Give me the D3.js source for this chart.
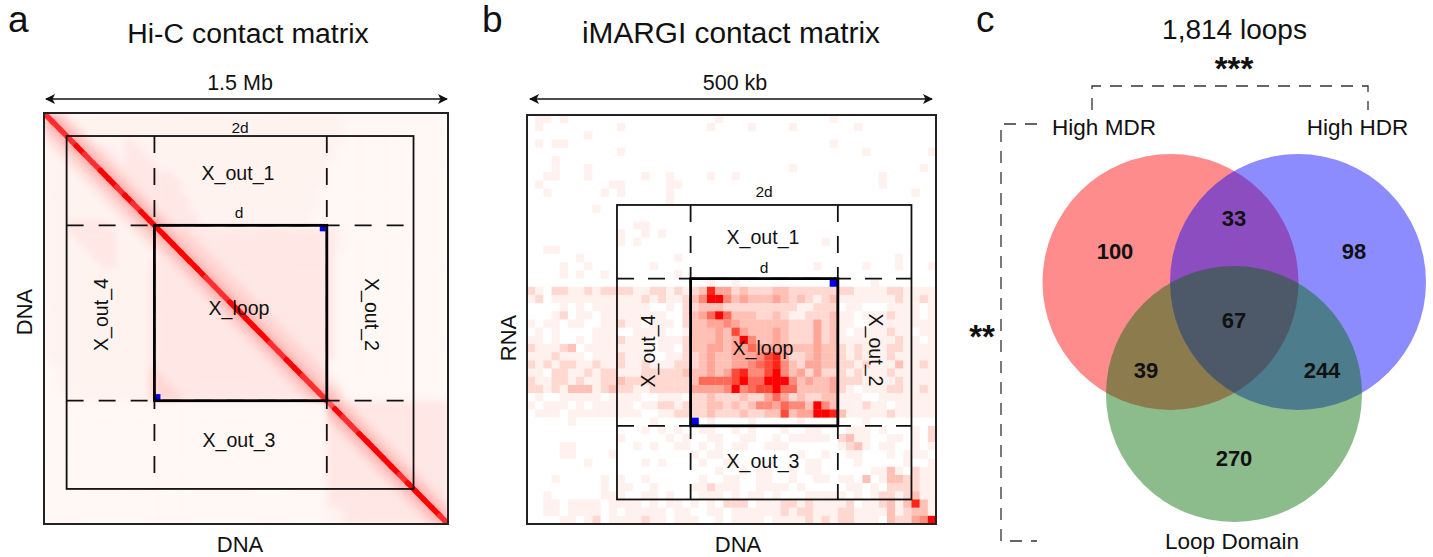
<!DOCTYPE html>
<html>
<head>
<meta charset="utf-8">
<script src="https://cdn.jsdelivr.net/npm/d3@7/dist/d3.min.js"></script>
<style>
  html, body { margin: 0; background: #fff; }
  text { font-family: "Liberation Sans", Arial, sans-serif; fill: #111; }
</style>
</head>
<body>
<svg id="chart" width="1433" height="557"></svg>
<script>
// Hi-C background, 50 x 50, one digit per coarse cell (0 pale .. 9 red)
const hicRows = [
  "54311111111111111111111111111111111110000000000000",
  "45431111111111111111111111111111111110000000000000",
  "34543111111111111111111111111111111110000000000000",
  "23454311112111111111111111111111111110000000000000",
  "12345432112211111111111111111111111100000000000000",
  "11234543212221111111111111111111111100000000000000",
  "11123454322222111111111111111111111000000000000000",
  "11112345432222221111111111111111111000000000000000",
  "11111234543222222111111111111111111000000000000000",
  "11111123454322222111111111111111110000000000000000",
  "11111112345432222211111111111111110000000000000000",
  "11111111234543222211111111111111110000000000000000",
  "11111111123454322221111111111111100000000000000000",
  "11122222112345432221111111111111100000000000000000",
  "11122222211234543322222222222222222210000000000000",
  "11112222211123454332222222222222222210000000000000",
  "11111222211112345433222222222222222210000000000000",
  "11111122211111234543322222222222222200000000000000",
  "11111112211112223454332222222222222200000000000000",
  "11111111111112222345433222222222222200000000000000",
  "11111111111112222234543322222222222200000000000000",
  "11111111111112222223454332222222222200000000000000",
  "11111111111112222222345433222222222200000000000000",
  "11111111111112222222234543322222222200000000000000",
  "11111111111112222222223454332222222200000000000000",
  "11111111111112222222222345433222222200000000000000",
  "11111111111112222222222234543322222200000000000000",
  "11111111111112222222222223454332222200000000000000",
  "11111111111112222222222222345433222200000000000000",
  "11111111111112222222222222234543322200000000000000",
  "01111111111112222222222222223454332000000000000000",
  "00111111111113222222222222222345433000000000000000",
  "00111111111113322222222222222234543200000000000000",
  "00111111111113332222222222222223454320000000000000",
  "00011111111113333222222222222222345430000000000000",
  "00000000000000000000000000000000000543222222222222",
  "00000000000000000000000000000000000454322222222222",
  "00000000000000000000000000000000000345432222222222",
  "00000000000000000000000000000000000234543222222222",
  "00000000000000000000000000000000000223454322222222",
  "00000000000000000000000000000000000222345432222222",
  "00000000000000000000000000000000000222234543222222",
  "00000000000000000000000000000000000222223454322222",
  "00000000000000000000000000000000000222222345432222",
  "00000000000000000000000000000000000222222234543222",
  "00000000000000000000000000000000000222222223454322",
  "00000000000000000000000000000000000222222222345432",
  "00000000000000000000000000000000000222222222234543",
  "00000000000000000000000000000000000112222222223454",
  "00000000000000000000000000000000000112222222222345"
];
// strength of the main diagonal along the same 50 coarse steps
const hicDiagonal = [8,8,8,8,9,8,8,9,9,8,9,8,9,9,9,9,9,9,9,9,8,8,8,9,9,9,9,9,8,8,9,9,8,8,8,7,9,8,8,9,9,9,9,9,8,9,9,9,9,8];
const hicBins = 150;
const hicCorners = [[41, 102.6], [102.4, 41]];
const hicLoop = [41, 105];
const hicOuter = [8.4, 137.2];

// iMARGI, 50 x 50 bins
const margiRows = [
  "01101000000000000000000100000000000001000000000000",
  "01000000000100000000001000010000100000001000000000",
  "00000001000000000000000000000000000000000000000000",
  "01011000000000000000000000000000000001000000000000",
  "00000000000100000000000000000000000000000100000001",
  "00010000000000000000000000000000000000000000000000",
  "00010001000000000000000000000000100000000000000010",
  "00110001000000100100001001000000000000000001000000",
  "01000000001100000110000000000000000000000001000000",
  "00100000010100000100000000000000000000000000000100",
  "00000000000000000100000000000000000000000000000000",
  "00000000100000000000000000000000000000000000000000",
  "00000000000000000000000000000000000000000000000000",
  "00000000000001100000000000000000000000000000000000",
  "00000000000100101000000000000000000000000000000000",
  "00000000000101000000000000000000000010000000000000",
  "00110000000000000000000000000000000000000000000000",
  "00000010000000000010000000000000000000000000010000",
  "00001001000000010000000000000000000100000100010001",
  "00001010010000000010000000000000000000000000000000",
  "00000000000000000000001001000000000000000010000000",
  "21022112122221122121238442322233222222221111221111",
  "12011111111111212112359953433343232123111111121121",
  "00001010111111100102233322222222211222011000111101",
  "00012011011111111002346963332232112223110111211101",
  "10110110011211011102334454333333222423110011111111",
  "01010000111001111001333437433343222423101111211011",
  "11010010111211101112333434953343222423111111121101",
  "21112301111111101102334434464444333433212111221111",
  "11121110111211100112234334445784223433212111211111",
  "21212211211211211122234334456785324433221211131121",
  "11022112122111222223334347855795342422212111211111",
  "21122121122322222222366667966999534334222111121111",
  "22121333123221122222444459567796633334210111221121",
  "01001111101111001110223222322464232233111001111111",
  "10111010111110112212223323235546553953111211011111",
  "01110111111111001122223222322337344998311111211111",
  "00000100000000010000001000010000010000000100000000",
  "00000000000000101010011001010001001100011101000102",
  "00000000000100000101001100110010111110231100110102",
  "00001100000001010011010101100111000000123101100101",
  "00001100001000000000101100000000010010011000101110",
  "00000001000000101000010011000000001100001000001001",
  "00000000000000000000000100101100101100000011310211",
  "00010000010100100000010011001100100110110301332211",
  "00000000010110010000112111001111010000011010222211",
  "00100000011100110100011101011010001111101012212311",
  "00110111101111010110101022201112212111120112313831",
  "00110111101011111011001101111112122111221111312331",
  "00001101201111211011100101111011112121221110322459"
];
const margiCorners = [[20, 37], [37, 20]];
const margiLoop = [20, 38];
const margiOuter = [11, 47];

// panel c
const vennSets = ["High MDR", "High HDR", "Loop Domain"];
const vennCounts = ["100", "33", "98", "67", "39", "244", "270"];
const panelTitles = ["Hi-C contact matrix", "iMARGI contact matrix", "1,814 loops"];
const regionLabels = ["X_out_1", "X_out_2", "X_out_3", "X_out_4", "X_loop"];

const svg = d3.select("#chart");
const defs = svg.append("defs");

defs.append("marker").attr("id", "tip")
  .attr("viewBox", "0 0 10 10").attr("refX", 9).attr("refY", 5)
  .attr("markerUnits", "userSpaceOnUse")
  .attr("markerWidth", 12).attr("markerHeight", 10).attr("orient", "auto-start-reverse")
  .append("path").attr("d", "M0 0 L10 5 L0 10 L2.5 5 Z").attr("fill", "#111");

defs.append("filter").attr("id", "soft").attr("x", "-5%").attr("y", "-5%").attr("width", "110%").attr("height", "110%")
  .append("feGaussianBlur").attr("stdDeviation", 3);
defs.append("filter").attr("id", "softLine").attr("x", "-5%").attr("y", "-5%").attr("width", "110%").attr("height", "110%")
  .append("feGaussianBlur").attr("stdDeviation", 0.7);

const hicColor = d3.scalePow().exponent(1.8).domain([0, 9]).range(["#fff8f5", "#ff0000"]);
const margiColor = d3.scaleLinear().domain(d3.range(10))
  .range(["#ffffff", "#fff1ee", "#ffd8d1", "#ffc0b6", "#ffa698", "#ff8a7a", "#ff6a58", "#ff4a38", "#ff2416", "#ff0000"]);

function label(txt, x, y, size, opts) {
  opts = opts || {};
  const t = svg.append("text").attr("text-anchor", opts.anchor || "middle")
    .attr("font-size", size).attr("font-weight", opts.weight || "normal").text(txt);
  if (opts.rotate) t.attr("transform", "translate(" + x + "," + y + ") rotate(" + opts.rotate + ")");
  else t.attr("x", x).attr("y", y);
  return t;
}

function segment(g, x1, y1, x2, y2, width, dash) {
  g.append("line").attr("x1", x1).attr("y1", y1).attr("x2", x2).attr("y2", y2)
    .attr("stroke", "#111").attr("stroke-width", width)
    .attr("stroke-dasharray", dash || null);
}

// frame, the 2d box, the dashed guides and the loop box
function drawBoxes(g, x, y, frame, outer, loop, dash) {
  g.append("rect").attr("x", frame[0]).attr("y", frame[2])
    .attr("width", frame[1] - frame[0]).attr("height", frame[3] - frame[2])
    .attr("fill", "none").attr("stroke", "#222").attr("stroke-width", 2);
  g.append("rect").attr("x", x(outer[0])).attr("y", y(outer[0]))
    .attr("width", x(outer[1]) - x(outer[0])).attr("height", y(outer[1]) - y(outer[0]))
    .attr("fill", "none").attr("stroke", "#111").attr("stroke-width", 1.8);
  loop.forEach(b => {
    segment(g, x(b), y(outer[0]), x(b), y(outer[1]), 1.8, dash);
    segment(g, x(outer[0]), y(b), x(outer[1]), y(b), 1.8, dash);
  });
  g.append("rect").attr("x", x(loop[0])).attr("y", y(loop[0]))
    .attr("width", x(loop[1]) - x(loop[0])).attr("height", y(loop[1]) - y(loop[0]))
    .attr("fill", "none").attr("stroke", "#000").attr("stroke-width", 2.8);
}

function drawHic() {
  const frame = [44, 448, 113, 524];
  const x = d3.scaleLinear().domain([0, hicBins]).range([frame[0], frame[1]]);
  const y = d3.scaleLinear().domain([0, hicBins]).range([frame[2], frame[3]]);
  const step = hicBins / hicRows.length;

  defs.append("clipPath").attr("id", "hicClip").append("rect")
    .attr("x", frame[0]).attr("y", frame[2]).attr("width", frame[1] - frame[0]).attr("height", frame[3] - frame[2]);
  const clip = svg.append("g").attr("clip-path", "url(#hicClip)");

  const bg = clip.append("g").attr("filter", "url(#soft)");
  hicRows.forEach((row, r) => {
    bg.selectAll(null).data(row.split("").map(Number)).enter().append("rect")
      .attr("x", (d, c) => x(c * step)).attr("y", y(r * step))
      .attr("width", x(step) - x(0) + 0.5).attr("height", y(step) - y(0) + 0.5)
      .attr("fill", d => hicColor(d));
  });

  const diag = clip.append("g").attr("filter", "url(#softLine)");
  diag.selectAll("line").data(hicDiagonal).enter().append("line")
    .attr("x1", (d, i) => x(i * step)).attr("y1", (d, i) => y(i * step))
    .attr("x2", (d, i) => x((i + 1) * step)).attr("y2", (d, i) => y((i + 1) * step))
    .attr("stroke", d => hicColor(d)).attr("stroke-width", 5.5).attr("stroke-linecap", "round");

  svg.selectAll(null).data(hicCorners).enter().append("rect")
    .attr("x", d => x(d[0])).attr("y", d => y(d[1]))
    .attr("width", 6).attr("height", 6).attr("fill", "#0000ee");

  drawBoxes(svg.append("g"), x, y, frame, hicOuter, hicLoop, "17 15");
}

function drawMargi() {
  const frame = [527, 936, 115, 524];
  const x = d3.scaleLinear().domain([0, 50]).range([frame[0], frame[1]]);
  const y = d3.scaleLinear().domain([0, 50]).range([frame[2], frame[3]]);

  const heat = svg.append("g");
  margiRows.forEach((row, r) => {
    heat.selectAll(null).data(row.split("").map(Number)).enter().append("rect")
      .attr("x", (d, c) => x(c)).attr("y", y(r))
      .attr("width", x(1) - x(0) + 0.3).attr("height", y(1) - y(0) + 0.3)
      .attr("fill", d => margiColor(d));
  });

  svg.selectAll(null).data(margiCorners).enter().append("rect")
    .attr("x", d => x(d[0])).attr("y", d => y(d[1]))
    .attr("width", x(1) - x(0)).attr("height", y(1) - y(0)).attr("fill", "#0000ee");

  drawBoxes(svg.append("g"), x, y, frame, margiOuter, margiLoop, "17 14");
}

function drawVenn() {
  const r = 128;
  const circles = [
    { cx: 1170.5, cy: 282, fill: "#ff0000" },
    { cx: 1298, cy: 282, fill: "#0000ff" },
    { cx: 1234, cy: 394, fill: "#006800" }
  ];
  svg.selectAll(".venn").data(circles).enter().append("circle")
    .attr("class", "venn")
    .attr("cx", d => d.cx).attr("cy", d => d.cy).attr("r", r)
    .attr("fill", d => d.fill).attr("fill-opacity", 0.45);

  const spots = [[1115, 259], [1234, 226], [1354, 259], [1234, 328], [1146, 378], [1322, 378], [1234, 466]];
  vennCounts.forEach((n, i) => label(n, spots[i][0], spots[i][1], 22, { weight: "bold" }));

  label(vennSets[0], 1104, 135, 22.5);
  label(vennSets[1], 1357.5, 135, 22.5);
  label(vennSets[2], 1232, 549, 22.5);

  const bracket = d3.line();
  [[[1092, 110], [1092, 86], [1368, 86], [1368, 110]],
   [[1037, 124], [1001, 124], [1001, 541], [1037, 541]]].forEach(p => {
    svg.append("path").attr("d", bracket(p)).attr("fill", "none")
      .attr("stroke", "#333").attr("stroke-width", 1.3).attr("stroke-dasharray", "12 9");
  });
  label("***", 1234, 80, 33, { weight: "bold" });
  label("**", 982, 348, 33, { weight: "bold" });
}

function arrow(x1, x2, y) {
  svg.append("line").attr("x1", x1).attr("x2", x2).attr("y1", y).attr("y2", y)
    .attr("stroke", "#111").attr("stroke-width", 1.4)
    .attr("marker-start", "url(#tip)").attr("marker-end", "url(#tip)");
}

drawHic();
drawMargi();
drawVenn();

// panel a text
label("a", 8, 32, 37, { anchor: "start" });
label(panelTitles[0], 248, 43, 28.4);
label("1.5 Mb", 240, 90, 21.5);
arrow(46, 447, 99);
label("2d", 240, 133, 15.5);
label("d", 239, 218, 15.5);
label(regionLabels[0], 238, 180, 19.6);
label(regionLabels[2], 239, 447, 19.6);
label(regionLabels[4], 239, 315, 19.6);
label(regionLabels[3], 108, 314.5, 19.6, { rotate: -90 });
label(regionLabels[1], 365, 314.5, 19.6, { rotate: 90 });
label("DNA", 32, 312, 22, { rotate: -90 });
label("DNA", 240, 552, 22);

// panel b text
label("b", 482, 32, 37, { anchor: "start" });
label(panelTitles[1], 731, 43, 29.8);
label("500 kb", 735, 90, 21.5);
arrow(530, 932, 99);
label("2d", 764, 197, 15.5);
label("d", 764, 273, 15.5);
label(regionLabels[0], 763, 244, 19.6);
label(regionLabels[2], 763, 468, 19.6);
label(regionLabels[4], 763, 355, 19.6);
label(regionLabels[3], 655, 351, 19.6, { rotate: -90 });
label(regionLabels[1], 869, 350, 19.6, { rotate: 90 });
label("RNA", 516, 338, 22, { rotate: -90 });
label("DNA", 738, 552, 22);

// panel c text
label("c", 976, 32, 37, { anchor: "start" });
label(panelTitles[2], 1234.5, 39, 28);
</script>
</body>
</html>
